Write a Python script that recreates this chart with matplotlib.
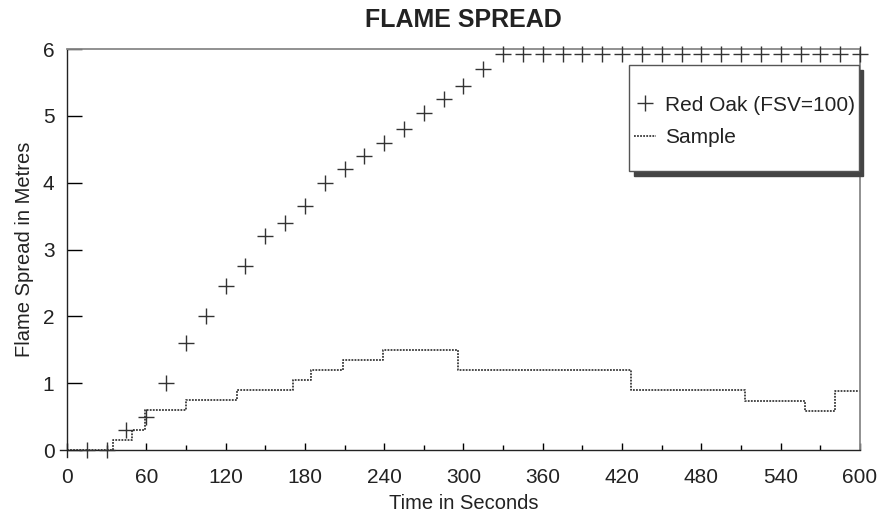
import matplotlib
matplotlib.use("Agg")
import matplotlib.pyplot as plt
from matplotlib.ticker import MultipleLocator
from matplotlib.path import Path

plt.rcParams['font.family'] = ['Liberation Sans', 'DejaVu Sans']

# Red Oak reference curve, one reading every 15 s
oak_t = [15, 30, 45, 60, 75, 90, 105, 120, 135, 150, 165, 180, 195, 210,
         225, 240, 255, 270, 285, 300, 315, 330, 345, 360, 375, 390, 405,
         420, 435, 450, 465, 480, 495, 510, 525, 540, 555, 570, 585, 600]
oak_y = [0, 0, 0.3, 0.5, 1.0, 1.6, 2.0, 2.45, 2.75, 3.2, 3.4, 3.65, 4.0, 4.2,
         4.4, 4.6, 4.8, 5.05, 5.25, 5.45, 5.7, 5.93, 5.93, 5.93, 5.93, 5.93,
         5.93, 5.93, 5.93, 5.93, 5.93, 5.93, 5.93, 5.93, 5.93, 5.93, 5.93,
         5.93, 5.93, 5.93]

# sample flame front (step changes)
sample_t = [0, 35, 49, 59, 90, 129, 171, 185, 209, 239, 296, 427, 513, 558, 581, 600]
sample_y = [0, 0.15, 0.3, 0.6, 0.75, 0.9, 1.05, 1.2, 1.35, 1.5, 1.2, 0.9, 0.73, 0.58, 0.88, 0.88]

x_ticks = [0, 60, 120, 180, 240, 300, 360, 420, 480, 540, 600]
y_ticks = [0, 1, 2, 3, 4, 5, 6]


def tall_box(x0, y0, width, height, mutation_size):
    # legend frame: thin side padding, extra room above and below
    top = 1.25 * mutation_size
    bot = 0.96 * mutation_size
    x1, y1 = x0 + width, y0 + height + top
    y0 = y0 - bot
    return Path([(x0, y0), (x1, y0), (x1, y1), (x0, y1), (x0, y0)],
                closed=True)


fig = plt.figure(figsize=(8.8, 5.16), dpi=100)
ax = fig.add_axes([0.0761, 0.1279, 0.9012, 0.7771])

ax.plot(oak_t, oak_y, linestyle='none', marker='+', markersize=11,
        markeredgewidth=1.0, color='#333333', label='Red Oak (FSV=100)',
        clip_on=False, zorder=3)
ax.plot(sample_t, sample_y, drawstyle='steps-post', color='#3a3a3a', lw=1.3,
        linestyle=(0, (1, 0.7)), label='Sample', zorder=2)

ax.set_xlim(0, 600)
ax.set_ylim(0, 6)
ax.set_xticks(x_ticks)
ax.set_yticks(y_ticks)
ax.xaxis.set_minor_locator(MultipleLocator(30))
ax.tick_params(axis='x', which='major', direction='in', length=5, width=1,
               pad=13, labelsize=15, labelcolor='#222222')
ax.tick_params(axis='x', which='minor', direction='in', length=3.5, width=1)
ax.tick_params(axis='y', direction='in', length=11, width=1, pad=9,
               labelsize=15, labelcolor='#222222')

for s in ['left', 'bottom']:
    ax.spines[s].set_color('#222222')
    ax.spines[s].set_linewidth(1.0)
ax.spines['left'].set_bounds(-0.1, 6)
ax.spines['bottom'].set_bounds(-5, 600)
for s in ['top', 'right']:
    ax.spines[s].set_color('#888888')
    ax.spines[s].set_linewidth(1.3)

ax.set_title('FLAME SPREAD', fontsize=18, fontweight='bold', color='#222222', pad=16)
ax.set_xlabel('Time in Seconds', fontsize=14.5, color='#222222', labelpad=5)
ax.set_ylabel('Flame Spread in Metres', fontsize=14.5, color='#222222', labelpad=6)

leg = ax.legend(loc='upper right', bbox_to_anchor=(0.9987, 0.894), fontsize=15,
                frameon=True, fancybox=False, numpoints=1, handlelength=1.1,
                handletextpad=0.4, borderpad=0.2, labelspacing=0.65,
                borderaxespad=0,
                shadow={'color': '#444444', 'alpha': 1, 'ox': 3, 'oy': -3})
leg.get_frame().set_boxstyle(tall_box)
leg.get_frame().set_edgecolor('#555555')
leg.get_frame().set_linewidth(1.0)
for t in leg.get_texts():
    t.set_color('#222222')

fig.savefig('out.png', dpi=100)
